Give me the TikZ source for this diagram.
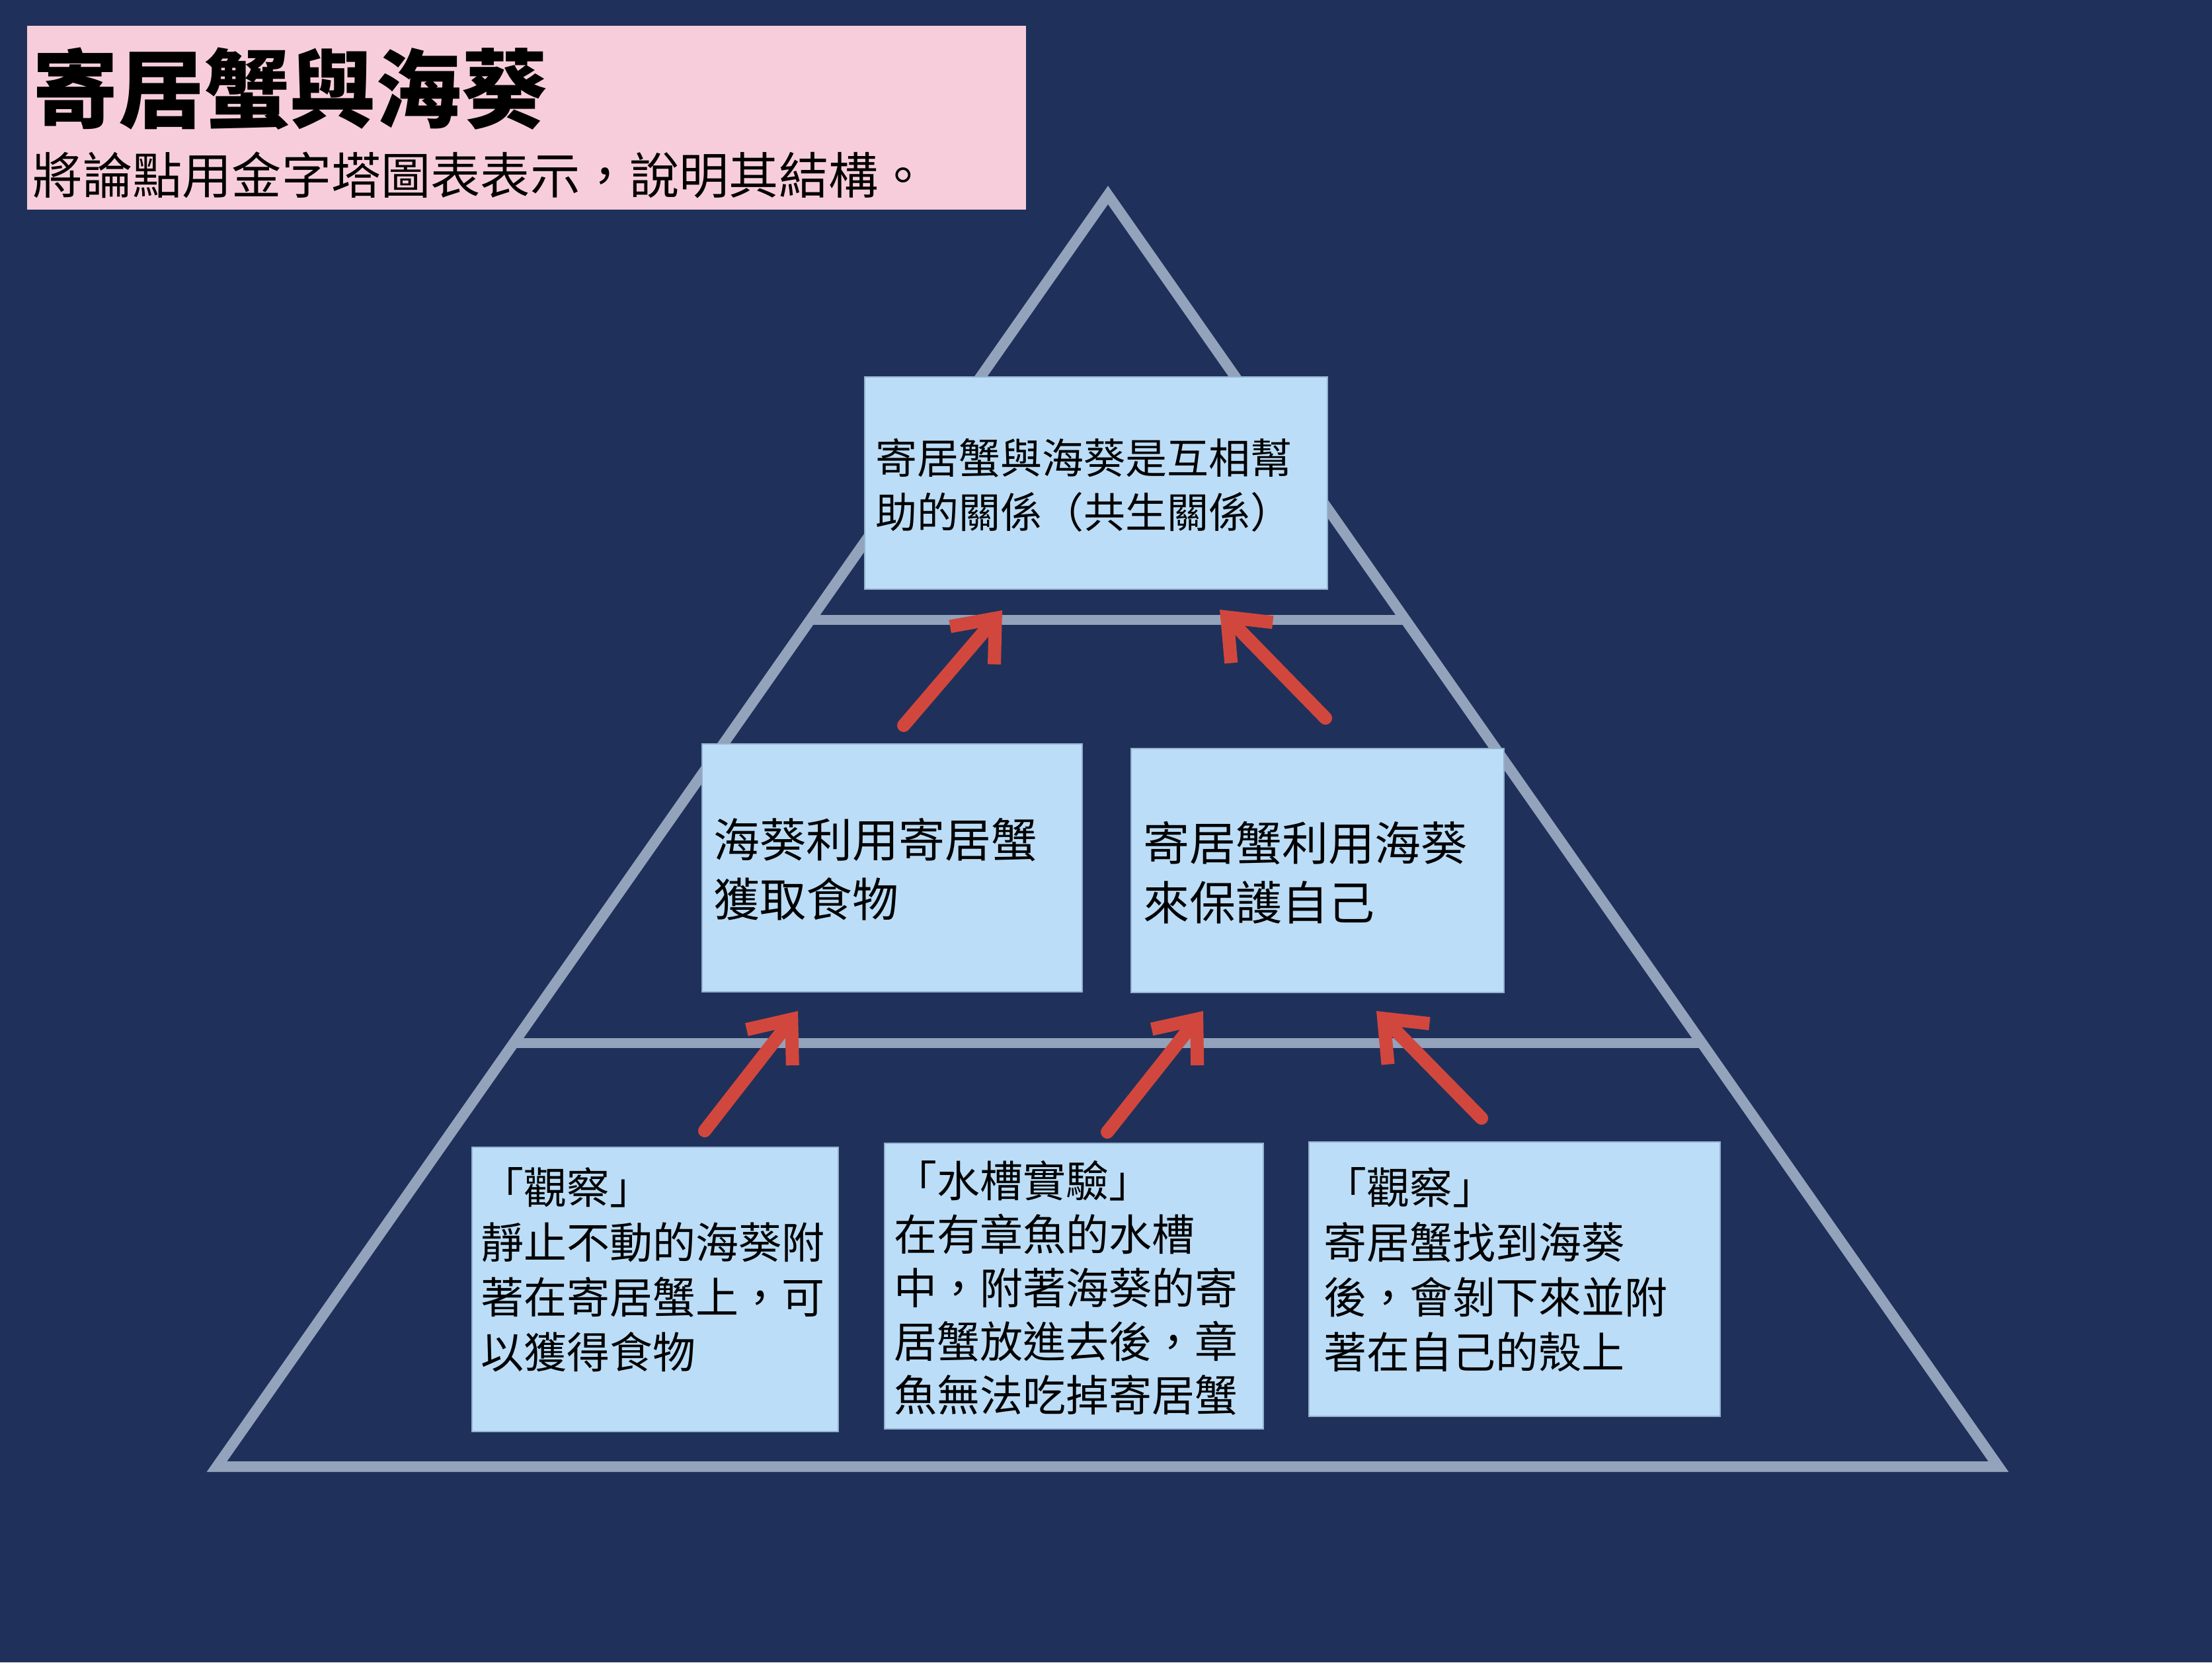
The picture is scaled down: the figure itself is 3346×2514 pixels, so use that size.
\documentclass[tikz,border=0pt]{standalone}
\usepackage{fontspec}
\newfontfamily\cjk{Noto Sans CJK TC}
\usetikzlibrary{arrows.meta}
\definecolor{bgnavy}{HTML}{1F315A}
\definecolor{pinkbox}{HTML}{F7CDDC}
\definecolor{bluebox}{HTML}{BBDDF7}
\definecolor{pyrline}{HTML}{93A3BB}
\definecolor{arrred}{HTML}{D2473D}
\begin{document}
\begin{tikzpicture}[x=0.25pt,y=-0.25pt,
  bluecard/.style={fill=bluebox, draw=bluebox!75!bgnavy, line width=0.3pt, anchor=north west, inner sep=0pt, outer sep=0pt},
  pyr/.style={draw=pyrline, line width=4pt},
  redarrow/.style={draw=arrred, line width=5pt, line cap=round, line join=round, -{Straight Barb[length=13.5pt,width=22pt]}},
  txt/.style={anchor=north west, inner sep=0pt, outer sep=0pt, align=left, text=black}]
% background
\fill[bgnavy] (0,0) rectangle (3346,2514);
\useasboundingbox (0,0) rectangle (3346,2514);
% pyramid
\coordinate (apex) at (1676,295);
\coordinate (bl) at (328,2218);
\coordinate (br) at (3023,2218);
\coordinate (l1a) at (1226,937);
\coordinate (l1b) at (2126,937);
\coordinate (l2a) at (778,1577);
\coordinate (l2b) at (2574,1577);
\draw[pyr, line join=miter] (apex) -- (bl) -- (br) -- cycle;
\draw[pyr, line width=3.75pt] (l1a) -- (l1b);
\draw[pyr, line width=3.75pt] (l2a) -- (l2b);
% cards
\node[bluecard, minimum width=175pt, minimum height=80.25pt] (top) at (1308,570) {};
\node[bluecard, minimum width=143.75pt, minimum height=93.75pt] (midL) at (1062,1125) {};
\node[bluecard, minimum width=141pt, minimum height=92.25pt] (midR) at (1711,1132) {};
\node[bluecard, minimum width=138.5pt, minimum height=107.5pt] (botL) at (714,1735) {};
\node[bluecard, minimum width=143.25pt, minimum height=108pt] (botM) at (1338,1729) {};
\node[bluecard, minimum width=155.5pt, minimum height=103.75pt] (botR) at (1980,1727) {};
% texts
\node[txt, font=\cjk\fontsize{15.75pt}{20.5pt}\selectfont] (topT) at (1324,663) {寄居蟹與海葵是互相幫\\助的關係（共生關係）};
\node[txt, font=\cjk\fontsize{17.5pt}{22.5pt}\selectfont] (midLT) at (1079,1237) {海葵利用寄居蟹\\獲取食物};
\node[txt, font=\cjk\fontsize{17.5pt}{22.5pt}\selectfont] (midRT) at (1729,1242) {寄居蟹利用海葵\\來保護自己};
\node[txt, font=\cjk\fontsize{16.25pt}{20.75pt}\selectfont] (botLT) at (727,1765) {「觀察」\\靜止不動的海葵附\\著在寄居蟹上，可\\以獲得食物};
\node[txt, font=\cjk\fontsize{16.25pt}{20.25pt}\selectfont] (botMT) at (1352,1755) {「水槽實驗」\\在有章魚的水槽\\中，附著海葵的寄\\居蟹放進去後，章\\魚無法吃掉寄居蟹};
\node[txt, font=\cjk\fontsize{16.25pt}{20.75pt}\selectfont] (botRT) at (2002,1765) {「觀察」\\寄居蟹找到海葵\\後，會剝下來並附\\著在自己的殼上};
% arrows
\coordinate (a1s) at (1367,1097); \coordinate (a1e) at (1516,923);
\coordinate (a2s) at (2005,1086); \coordinate (a2e) at (1845,922);
\coordinate (a3s) at (1066,1710); \coordinate (a3e) at (1207,1529);
\coordinate (a4s) at (1675,1712); \coordinate (a4e) at (1820,1529);
\coordinate (a5s) at (2241,1691); \coordinate (a5e) at (2082,1529);
\draw[redarrow] (a1s) -- (a1e);
\draw[redarrow] (a2s) -- (a2e);
\draw[redarrow] (a3s) -- (a3e);
\draw[redarrow] (a4s) -- (a4e);
\draw[redarrow] (a5s) -- (a5e);
% title
\node[anchor=north west, fill=pinkbox, inner sep=0pt, outer sep=0pt, minimum width=377.75pt, minimum height=69.5pt] (titlebox) at (41,39) {};
\node[txt, font=\cjk\bfseries\fontsize{32.4pt}{38pt}\selectfont] (title) at (50,72) {寄居蟹與海葵};
\node[txt, font=\cjk\fontsize{18.8pt}{22pt}\selectfont] (subtitle) at (50,230) {將論點用金字塔圖表表示，說明其結構。};
\end{tikzpicture}
\end{document}
